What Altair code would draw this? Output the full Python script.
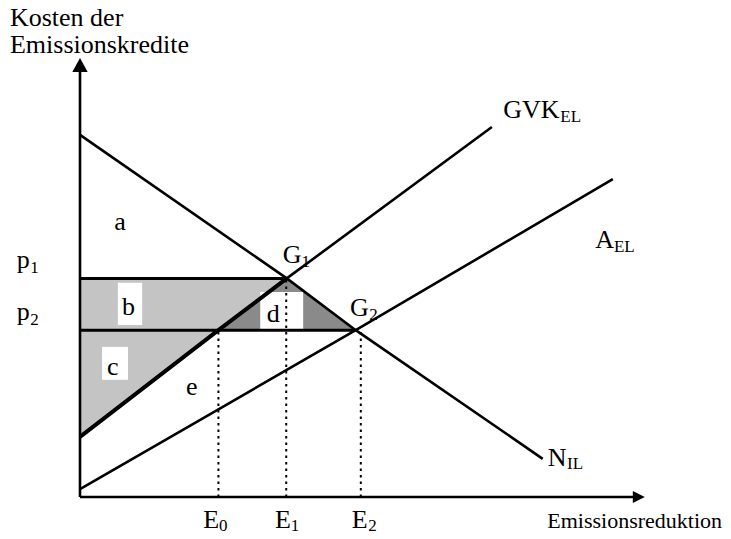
import altair as alt
import pandas as pd

# ---------------- data (units: x-axis length = 100, y-axis length = 100) ----------------
# demand curve N_IL (start, G1, G2, end)
n_u = [0.0, 36.6, 48.8, 81.9]
n_v = [82.5, 49.8, 38.0, 8.7]
# GVK_EL (thick part: intercept, E0 point, G1) and thin part (G1 -> end)
gvk_thick_u = [0.0, 24.5, 36.6]
gvk_thick_v = [13.7, 38.0, 49.8]
gvk_thin_u = [36.6, 72.9]
gvk_thin_v = [49.8, 84.3]
# A_EL
a_u = [0.0, 48.8, 94.3]
a_v = [1.8, 38.0, 72.4]
# price levels p1, p2 and their right ends (G1, G2)
p_levels = [49.8, 38.0]
p_ends = [36.6, 48.8]
# dotted verticals E0, E1, E2
e_u = [24.5, 36.5, 49.7]
e_top = [38.0, 49.8, 38.0]
# shaded regions
light_u = [0.0, 24.5, 36.6]
light_lo = [13.7, 38.0, 49.8]
light_hi = [49.8, 49.8, 49.8]
dark_u = [24.5, 36.6, 48.8]
dark_hi = [38.0, 49.8, 38.0]
dark_lo = [38.0, 38.0, 38.0]
# white label boxes (b, c, d)
box_u1 = [6.7, 3.9, 31.9]
box_u2 = [11.0, 8.5, 39.5]
box_v1 = [39.2, 26.7, 38.0]
box_v2 = [48.8, 34.2, 46.7]
# axes
axis_end_x = 98.9
axis_end_y = 98.4
# texts
title_txt = ["Kosten der", "Emissionskredite"]
title_u = [-12.4, -12.4]
title_v = [107.4, 101.1]
xtitle_txt = ["Emissionsreduktion"]
xtitle_u = [82.7]
xtitle_v = [-7.06]
region_txt = ["a", "b", "c", "d", "e"]
region_u = [7.1, 8.6, 5.8, 34.2, 19.8]
region_v = [60.8, 41.5, 27.8, 39.9, 23.2]
sym_txt = ["p", "p", "G", "G", "E", "E", "E", "GVK", "A", "N"]
sym_u = [-11.2, -11.2, 35.9, 47.8, 21.8, 34.5, 48.1, 74.9, 91.2, 82.8]
sym_v = [52.2, 40.3, 53.3, 41.2, -7.06, -7.06, -7.06, 86.3, 56.7, 7.1]
sub_txt = ["1", "2", "1", "2", "0", "1", "2", "EL", "EL", "IL"]
sub_u = [-8.8, -8.8, 39.2, 51.2, 24.6, 37.3, 51.0, 85.0, 94.5, 86.2]
sub_v = [51.1, 39.2, 52.4, 40.3, -7.74, -7.74, -7.74, 85.4, 55.8, 6.4]

# ---------------- chart ----------------
W, H = 715, 524
xs = alt.Scale(domain=[-12.743, 113.805], nice=False, zero=False)
ys = alt.Scale(domain=[-7.973, 111.390], nice=False, zero=False)
X = lambda f="u": alt.X(f"{f}:Q", scale=xs, axis=None)
Y = lambda f="v": alt.Y(f"{f}:Q", scale=ys, axis=None)
FONT = "Times New Roman, Liberation Serif, DejaVu Serif, serif"


def line_df(us, vs):
    return pd.DataFrame({"u": us, "v": vs, "o": list(range(len(us)))})


light = alt.Chart(pd.DataFrame({"u": light_u, "v": light_lo, "v2": light_hi})).mark_area(
    color="#c4c4c4", opacity=1).encode(x=X(), y=Y(), y2="v2:Q")
dark = alt.Chart(pd.DataFrame({"u": dark_u, "v": dark_hi, "v2": dark_lo})).mark_area(
    color="#8a8a8a", opacity=1).encode(x=X(), y=Y(), y2="v2:Q")
boxes = alt.Chart(pd.DataFrame({"u": box_u1, "u2": box_u2, "v": box_v1, "v2": box_v2})).mark_rect(
    color="white", opacity=1).encode(x=X(), x2="u2:Q", y=Y(), y2="v2:Q")

dots = alt.Chart(pd.DataFrame({"u": e_u, "v": [0] * 3, "v2": e_top})).mark_rule(
    color="black", strokeWidth=2, strokeDash=[2.5, 4]).encode(x=X(), y=Y(), y2="v2:Q")

plines = alt.Chart(pd.DataFrame({"u": [0.0, 0.0], "u2": p_ends, "v": p_levels})).mark_rule(
    color="black", strokeWidth=3).encode(x=X(), x2="u2:Q", y=Y())


def curve(us, vs, w):
    return alt.Chart(line_df(us, vs)).mark_line(color="black", strokeWidth=w).encode(
        x=X(), y=Y(), order="o:Q")


n_line = curve(n_u, n_v, 2.6)
gvk_a = curve(gvk_thick_u, gvk_thick_v, 4)
gvk_b = curve(gvk_thin_u, gvk_thin_v, 2.6)
a_line = curve(a_u, a_v, 2.6)

xaxis = alt.Chart(pd.DataFrame({"u": [0.0], "u2": [axis_end_x], "v": [0.0]})).mark_rule(
    color="black", strokeWidth=2.6).encode(x=X(), x2="u2:Q", y=Y())
yaxis = alt.Chart(pd.DataFrame({"u": [0.0], "v": [0.0], "v2": [axis_end_y]})).mark_rule(
    color="black", strokeWidth=2.6).encode(x=X(), y=Y(), y2="v2:Q")
arrow_x = alt.Chart(pd.DataFrame({"u": [axis_end_x], "v": [0.0]})).mark_point(
    shape="M1,0L-1,-1L-1,1Z", size=144, filled=True, color="black", opacity=1).encode(x=X(), y=Y())
arrow_y = alt.Chart(pd.DataFrame({"u": [0.0], "v": [axis_end_y]})).mark_point(
    shape="M0,-1L-1.1,1L1.1,1Z", size=196, filled=True, color="black", opacity=1).encode(x=X(), y=Y())


def texts(txt, us, vs, size, align="left"):
    return alt.Chart(pd.DataFrame({"t": txt, "u": us, "v": vs})).mark_text(
        font=FONT, fontSize=size, align=align, baseline="alphabetic", color="black").encode(
        x=X(), y=Y(), text="t:N")


t_title = texts(title_txt, title_u, title_v, 26)
t_xtitle = texts(xtitle_txt, xtitle_u, xtitle_v, 22)
t_region = texts(region_txt, region_u, region_v, 26, "center")
t_sym = texts(sym_txt, sym_u, sym_v, 26)
t_sub = texts(sub_txt, sub_u, sub_v, 17)

chart = alt.layer(
    light, dark, boxes, dots, plines, n_line, gvk_a, gvk_b, a_line,
    xaxis, yaxis, arrow_x, arrow_y, t_title, t_xtitle, t_region, t_sym, t_sub
).properties(
    width=W, height=H, autosize=alt.AutoSizeParams(type="none"), padding=0,
    background="white"
).configure_view(stroke=None)

chart.save("out.html", embed_options={"renderer": "svg", "actions": False})
